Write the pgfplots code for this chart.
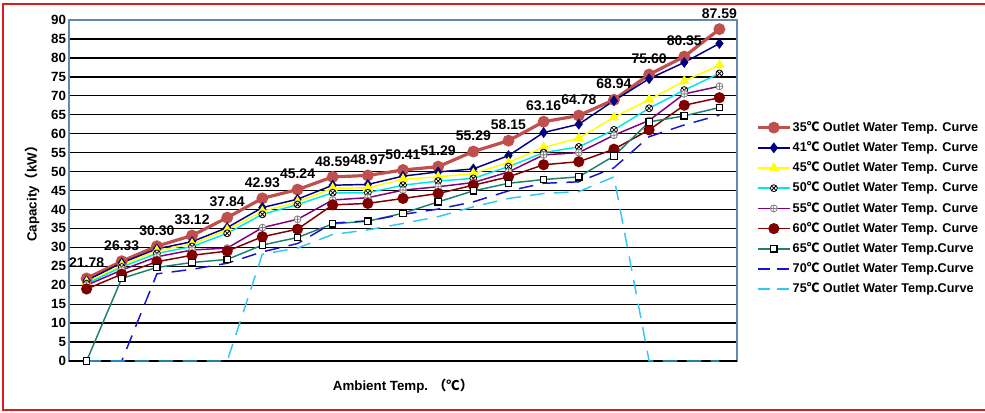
\documentclass[border=0pt]{standalone}
\usepackage{pgfplots}
\pgfplotsset{compat=1.18}
\usepackage{pgfplotstable}
\usepackage{fontspec}
\setmainfont{Liberation Sans}
\newfontfamily\cjk{Noto Sans CJK SC}
\definecolor{axisblue}{RGB}{100,135,180}
\definecolor{c35}{RGB}{192,80,77}
\definecolor{c41}{RGB}{0,0,128}
\definecolor{c45}{RGB}{255,255,0}
\definecolor{c50}{RGB}{0,230,235}
\definecolor{c55}{RGB}{128,0,128}
\definecolor{c60}{RGB}{128,0,0}
\definecolor{c65}{RGB}{30,128,110}
\definecolor{c70}{RGB}{20,20,210}
\definecolor{c75}{RGB}{50,200,240}
\definecolor{bord}{RGB}{215,30,30}

\pgfplotstableread{
x  s35   s41  s45  s50  s55  s60  s65  s70  s75
0  21.78 21.2 20.8 20.4 20.0 19.0 0    0    0
1  26.33 25.9 25.3 24.8 24.0 22.9 21.8 0    0
2  30.30 29.6 29.1 28.4 27.5 26.2 24.7 23.0 0
3  33.12 31.5 30.9 30.2 29.3 27.9 26.0 24.2 0
4  37.84 35.2 34.6 33.7 29.8 29.0 26.8 25.8 0
5  42.93 40.5 39.5 38.7 35.2 32.8 30.6 28.8 28.2
6  45.24 42.7 42.0 41.3 37.4 34.8 32.6 31.0 29.8
7  48.59 46.4 45.6 44.4 42.5 41.2 36.2 36.4 33.4
8  48.97 46.6 45.7 44.4 43.1 41.6 36.9 37.0 34.6
9  50.41 48.8 48.0 46.4 45.1 42.9 39.0 38.7 36.3
10 51.29 49.9 48.6 47.5 46.0 44.2 42.0 40.1 38.1
11 55.29 50.7 49.5 48.2 47.1 46.4 44.9 42.0 40.7
12 58.15 54.2 52.4 51.3 49.9 48.6 46.9 44.9 42.9
13 63.16 60.3 56.4 55.0 54.4 51.8 47.9 46.9 44.2
14 64.78 62.5 58.8 56.5 55.0 52.6 48.6 47.3 44.7
15 68.94 68.7 64.3 61.0 59.6 55.9 54.1 51.0 48.6
16 75.60 74.5 69.0 66.7 63.5 61.0 63.1 59.2 0
17 80.35 78.8 73.9 71.5 70.5 67.5 64.7 62.3 0
18 87.59 83.8 78.1 75.9 72.5 69.5 66.9 64.9 0
}\datatable

\begin{document}
\begin{tikzpicture}
\useasboundingbox (0,0) rectangle (738.75pt,309pt);
\draw[bord, line width=1.2pt] (740pt,1.5pt) -- (2.25pt,1.5pt) -- (2.25pt,306pt) -- (740pt,306pt);
\begin{axis}[
  at={(51.75pt,38.25pt)}, anchor=south west,
  scale only axis, width=501pt, height=255.75pt,
  xmin=-0.5, xmax=18.5, ymin=0, ymax=90,
  ytick={0,5,...,90}, xtick=\empty,
  major tick length=0pt,
  ymajorgrids, grid style={black, line width=1pt},
  axis line style={color=axisblue, line width=1pt},
  /pgf/number format/assume math mode=true,
  yticklabel style={font=\bfseries\fontsize{10}{12}\selectfont, inner sep=2pt},
  ylabel={\bfseries Capacity{\cjk （}kW{\cjk ）}},
  ylabel style={font=\fontsize{10}{12}\selectfont, at={(axis description cs:-0.055,0.5)}, anchor=center},
  xlabel={\bfseries Ambient Temp. {\cjk （℃）}},
  xlabel style={font=\fontsize{10}{12}\selectfont, at={(axis description cs:0.5,-0.04)}, anchor=north},
  legend image code/.code={\draw[mark repeat=2,mark phase=2,#1] plot coordinates {(0cm,0cm) (0.42cm,0cm) (0.84cm,0cm)};},
  legend style={at={(1.0225,0.7155)}, anchor=north west, draw=none, fill=none,
    font=\bfseries\fontsize{9.5}{11}\selectfont,
    nodes={text height=7.5pt, text depth=2pt, inner sep=1pt},
    row sep=3.65pt},
  legend cell align=left,
  clip=false,
]
\draw[black, line width=1pt] (rel axis cs:0,0) -- (rel axis cs:1,0);
\addplot[c35, line width=2.4pt, mark=*, mark size=3.2pt,
  nodes near coords={\pgfmathprintnumber[fixed,fixed zerofill,precision=2,assume math mode=true]{\pgfplotspointmeta}},
  every node near coord/.append style={black, font=\bfseries\fontsize{10.5}{12}\selectfont, anchor=south, yshift=3.5pt}]
  table[x=x,y=s35] {\datatable};
\addlegendentry{35{\cjk ℃} Outlet Water Temp. Curve}
\addplot[c41, line width=1.1pt, mark=diamond*, mark size=3.2pt]
  table[x=x,y=s41] {\datatable};
\addlegendentry{41{\cjk ℃} Outlet Water Temp. Curve}
\addplot[c45, line width=1.1pt, mark=triangle*, mark size=3.4pt]
  table[x=x,y=s45] {\datatable};
\addlegendentry{45{\cjk ℃} Outlet Water Temp. Curve}
\addplot[c50, line width=1.1pt, mark=otimes*, mark size=2.6pt, mark options={fill=white, draw=black, line width=0.6pt}]
  table[x=x,y=s50] {\datatable};
\addlegendentry{50{\cjk ℃} Outlet Water Temp. Curve}
\addplot[c55, line width=1.1pt, mark=oplus*, mark size=2.6pt, mark options={fill=white, draw=gray, line width=0.6pt}]
  table[x=x,y=s55] {\datatable};
\addlegendentry{55{\cjk ℃} Outlet Water Temp. Curve}
\addplot[c60, line width=1.1pt, mark=*, mark size=3.6pt]
  table[x=x,y=s60] {\datatable};
\addlegendentry{60{\cjk ℃} Outlet Water Temp. Curve}
\addplot[c65, line width=1.1pt, mark=square*, mark size=2.4pt, mark options={fill=white, draw=black, line width=0.9pt}]
  table[x=x,y=s65] {\datatable};
\addlegendentry{65{\cjk ℃} Outlet Water Temp.Curve}
\addplot[c70, line width=1.1pt, dash pattern=on 11pt off 7pt, legend image post style={dash pattern=on 9pt off 5pt}]
  table[x=x,y=s70] {\datatable};
\addlegendentry{70{\cjk ℃} Outlet Water Temp.Curve}
\addplot[c75, line width=1.1pt, dash pattern=on 11pt off 7pt, legend image post style={dash pattern=on 9pt off 5pt}]
  table[x=x,y=s75] {\datatable};
\addlegendentry{75{\cjk ℃} Outlet Water Temp.Curve}
\end{axis}
\end{tikzpicture}
\end{document}
